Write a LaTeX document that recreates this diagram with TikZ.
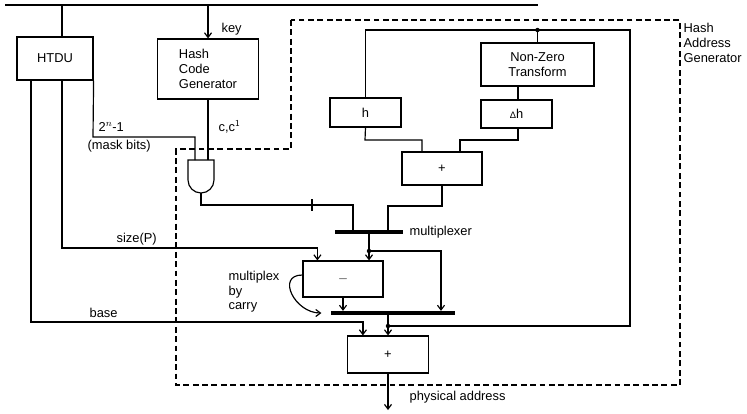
\documentclass[tikz,border=0pt]{standalone}
\usepackage{fontspec}
\setmainfont{Liberation Sans}
\usetikzlibrary{arrows.meta,positioning}

\begin{document}
\begin{tikzpicture}[x=0.03cm,y=-0.03cm,line width=1pt,
   every node/.style={font=\fontsize{11}{12.5}\selectfont},
   blk/.style={draw=black,inner sep=0pt},
   muxbar/.style={fill=black,inner sep=0pt,minimum height=2.6pt},
   lbl/.style={anchor=west,inner sep=0pt,align=left},
   jn/.style={circle,fill=black,inner sep=0pt,minimum size=3.8pt},
   >={Straight Barb[length=4pt,width=6pt]}]
   \useasboundingbox (0,0) rectangle (747,413);

   % units
   \node[blk,minimum width=2.28cm,minimum height=1.29cm] (htdu) at (55,58.5) {HTDU};
   \node[blk,minimum width=3.03cm,minimum height=1.8cm,align=left] (hcg) at (208,69) {Hash\\Code\\Generator};
   \node[blk,minimum width=3.39cm,minimum height=1.29cm,align=center] (nzt) at (537.5,64.5) {Non-Zero\\Transform};
   \node[blk,minimum width=2.13cm,minimum height=0.84cm] (dh) at (516.5,114) {{\footnotesize Δ}h};
   \node[blk,minimum width=2.13cm,minimum height=0.87cm] (h) at (365.5,112.5) {h};
   \node[blk,minimum width=2.4cm,minimum height=0.99cm] (plus1) at (442,168.5) {+};
   \node[blk,minimum width=2.4cm,minimum height=1.08cm] (minus) at (343,279) {$-$};
   \node[blk,minimum width=2.43cm,minimum height=1.11cm] (plus2) at (388,354.5) {+};
   \node[muxbar,minimum width=2.04cm] (mux1) at (369,232) {};
   \node[muxbar,minimum width=3.72cm] (mux2) at (393,313) {};

   % and gate
   \draw (188,160) coordinate (andnw) -- (214,160) -- (214,180) arc[start angle=0,end angle=180,radius=13] -- cycle;
   \coordinate (anda) at (195,160);
   \coordinate (andb) at (208,160);
   \coordinate (andout) at (201,193);

   % bus and dashed frame
   \coordinate (busl) at (5,5);
   \coordinate (busr) at (538,5);
   \draw (busl) -- (busr);
   \draw[dashed,dash pattern=on 5pt off 3pt] (291,20) -- (291,149) -- (176,149) -- (176,385) -- (680,385) -- (680,20) -- cycle;
   \node[lbl,anchor=north west] (hag) at (683,23) {Hash\\Address\\Generator};

   % connections
   \draw (htdu.north -| 62,0) -- (busl -| 62,0);
   \draw[->] (busl -| hcg.north) -- (hcg.north);
   \draw (hcg.south) -- (andb);
   \draw (htdu.south east) -- (93,137) -| (anda);
   \draw[->] (htdu.south -| 62,0) -- (62,248) -| ([xshift=0.45cm]minus.north west);
   \draw[->] (htdu.south -| 31,0) -- (31,322) -| ([xshift=0.48cm]plus2.north west);
   \draw (andout) -- (201,205) -| (mux1.north -| 353,0);
   \draw (312,199) -- (312,211);
   \draw (plus1.south) -- (442,206) -| (mux1.north -| 388,0);
   \draw (h.south) -- (365,140) -| (plus1.north -| 422,0);
   \draw (dh.south -| 518,0) -- (518,140) -| (plus1.north -| 460,0);
   \draw (nzt.south -| 518,0) -- (dh.north -| 518,0);
   \node[jn] (top) at (537.5,30) {};
   \draw (nzt.north) -- (top.center);
   \draw (h.north) |- (top.center) -| (630,326) -- (388,326);
   \draw[->] (mux1.south) -- (minus.north -| mux1.south);
   \node[jn] (j1) at (369,251) {};
   \draw[->] (j1.center) -| (mux2.north -| 441,0);
   \draw[->] (minus.south) -- (mux2.north -| minus.south);
   \draw[->] ([yshift=0.12cm]minus.west) to[out=180,in=180,looseness=1.6] ([xshift=-0.27cm]mux2.west);
   \node[jn] (j2) at (388,326) {};
   \draw[->] (mux2.south -| plus2.north) -- (plus2.north);
   \draw[->] (plus2.south) -- (388,410);

   % labels
   \node[lbl] (lkey) at (221,29) {key};
   \node[lbl] (lcc) at (218,127) {c,c$^{\mathsf{1}}$};
   \node[lbl] (lmask) at (98,127) {2$^{n}$-1};
   \node[lbl] (lmaskb) at (87,146) {(mask bits)};
   \node[lbl] (lsize) at (116,239) {size(P)};
   \node[lbl] (lbase) at (89,313) {base};
   \node[lbl] (lmux) at (409,232) {multiplexer};
   \node[lbl] (lcarry) at (228,292) {multiplex\\by\\carry};
   \node[lbl] (lphys) at (409,397) {physical address};
\end{tikzpicture}
\end{document}
